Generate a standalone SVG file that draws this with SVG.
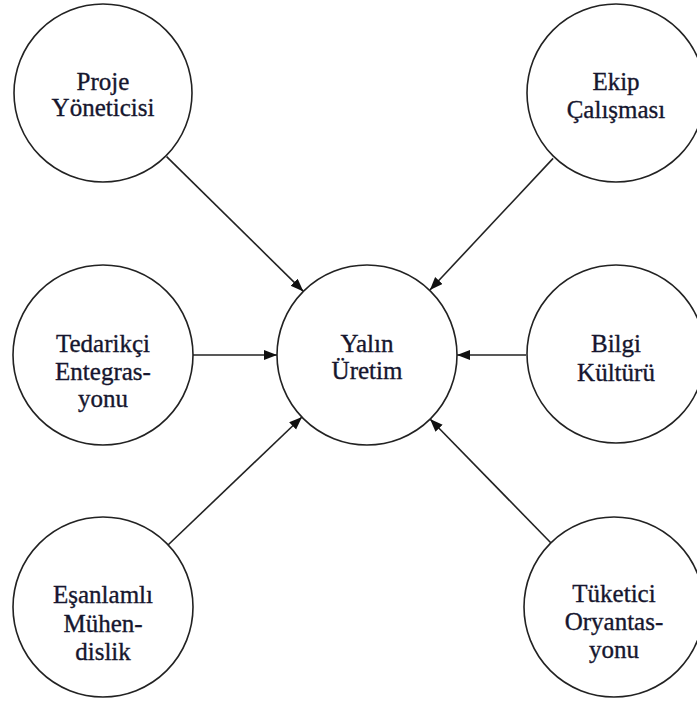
<svg xmlns="http://www.w3.org/2000/svg" width="697" height="702" viewBox="0 0 697 702">
<style>
  .node circle { fill: #ffffff; stroke: #222222; stroke-width: 1.6; }
  .node text { font-family: 'Liberation Serif', 'DejaVu Serif', serif; font-size: 25px; fill: #16162e; stroke: #16162e; stroke-width: 0.35; text-anchor: middle; }
  .conn line { stroke: #222222; stroke-width: 1.6; marker-end: url(#arrow); }
</style>
<defs>
  <marker id="arrow" markerUnits="userSpaceOnUse" markerWidth="14" markerHeight="11" refX="13" refY="5" orient="auto">
    <path d="M0,0 L13,5 L0,10 Z" fill="#111111"/>
  </marker>
</defs>
<rect width="697" height="702" fill="#ffffff"/>
<g id="connectors" class="conn">
  <line x1="166.6" y1="156.6" x2="303.4" y2="291.4"/>
  <line x1="553.1" y1="158.4" x2="429.9" y2="290.0"/>
  <line x1="193" y1="355" x2="277" y2="355"/>
  <line x1="526" y1="355" x2="457" y2="355"/>
  <line x1="168" y1="545" x2="302" y2="417"/>
  <line x1="551" y1="543" x2="430" y2="419"/>
</g>
<g id="node-proje" class="node">
  <circle cx="103" cy="93" r="89"/>
  <text x="103" y="90">Proje</text>
  <text x="103" y="116">Yöneticisi</text>
</g>
<g id="node-ekip" class="node">
  <circle cx="616" cy="93" r="89"/>
  <text x="616" y="90">Ekip</text>
  <text x="616" y="118">Çalışması</text>
</g>
<g id="node-yalin" class="node">
  <circle cx="367" cy="355" r="90"/>
  <text x="367" y="352">Yalın</text>
  <text x="367" y="379">Üretim</text>
</g>
<g id="node-tedarikci" class="node">
  <circle cx="103" cy="355" r="90"/>
  <text x="103" y="352">Tedarikçi</text>
  <text x="103" y="380">Entegras-</text>
  <text x="103" y="407">yonu</text>
</g>
<g id="node-bilgi" class="node">
  <circle cx="616" cy="354" r="89"/>
  <text x="616" y="352">Bilgi</text>
  <text x="616" y="381">Kültürü</text>
</g>
<g id="node-esanlamli" class="node">
  <circle cx="103" cy="607" r="90"/>
  <text x="103" y="603">Eşanlamlı</text>
  <text x="103" y="632">Mühen-</text>
  <text x="103" y="660">dislik</text>
</g>
<g id="node-tuketici" class="node">
  <circle cx="614" cy="607" r="90"/>
  <text x="614" y="602">Tüketici</text>
  <text x="614" y="630">Oryantas-</text>
  <text x="614" y="658">yonu</text>
</g>
</svg>
